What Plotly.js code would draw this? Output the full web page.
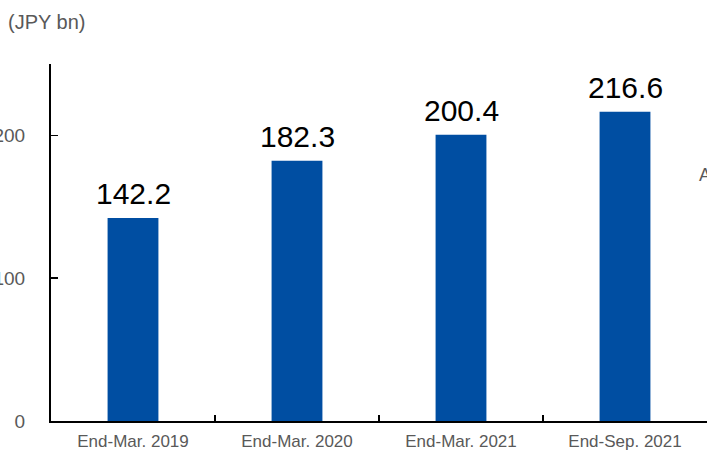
<!DOCTYPE html>
<html>
<head>
<meta charset="utf-8">
<script src="https://cdn.plot.ly/plotly-3.0.1.min.js"></script>
<style>html,body{margin:0;padding:0;background:#fff;}#chart{width:707px;height:452px;}</style>
</head>
<body>
<div id="chart"></div>
<script>
const categories = ["End-Mar. 2019", "End-Mar. 2020", "End-Mar. 2021", "End-Sep. 2021"];
const values = [142.2, 182.3, 200.4, 216.6];
const valueLabels = ["142.2", "182.3", "200.4", "216.6"];
const yTicks = [0, 100, 200];

const FONT = "Arial, 'Liberation Sans', sans-serif";
const GRAY = "#595959";

const trace = {
  type: "bar",
  x: categories,
  y: values,
  marker: {color: "#004EA2"},
  width: 0.31,
  hoverinfo: "none"
};

const labelAnns = categories.map((c, i) => ({
  x: c, y: values[i], xref: "x", yref: "y",
  text: valueLabels[i], showarrow: false,
  yanchor: "bottom", yshift: 6,
  font: {family: FONT, size: 30, color: "#000"}
}));

const layout = {
  width: 707, height: 452,
  margin: {l: 51, r: 0, t: 64, b: 31, pad: 0},
  paper_bgcolor: "#fff", plot_bgcolor: "#fff",
  showlegend: false,
  font: {family: FONT, color: GRAY},
  xaxis: {
    type: "category",
    showline: true, linecolor: "#000", linewidth: 2,
    ticks: "inside", tickson: "boundaries", ticklen: 6, tickcolor: "#000", tickwidth: 1.5,
    tickfont: {family: FONT, size: 17, color: GRAY},
    ticklabelstandoff: 4,
    showgrid: false, zeroline: false, fixedrange: true
  },
  yaxis: {
    range: [0, 250],
    tickvals: yTicks, ticktext: yTicks.map(String),
    showline: true, linecolor: "#000", linewidth: 2,
    ticks: "inside", ticklen: 7, tickcolor: "#000", tickwidth: 1.5,
    tickfont: {family: FONT, size: 19, color: GRAY},
    ticklabelstandoff: 20,
    showgrid: false, zeroline: false, fixedrange: true
  },
  annotations: labelAnns.concat([
    {xref: "paper", yref: "paper", x: 0.0, y: 1.0, xanchor: "left", yanchor: "bottom",
     text: "(JPY bn)", showarrow: false, xshift: -45, yshift: 29,
     font: {family: FONT, size: 20, color: GRAY}},
    {xref: "paper", yref: "paper", x: 0.985, y: 0.69, xanchor: "left", yanchor: "middle",
     text: "A", showarrow: false,
     font: {family: FONT, size: 18, color: GRAY}}
  ])
};

Plotly.newPlot("chart", [trace], layout, {displayModeBar: false, staticPlot: true});
</script>
</body>
</html>
